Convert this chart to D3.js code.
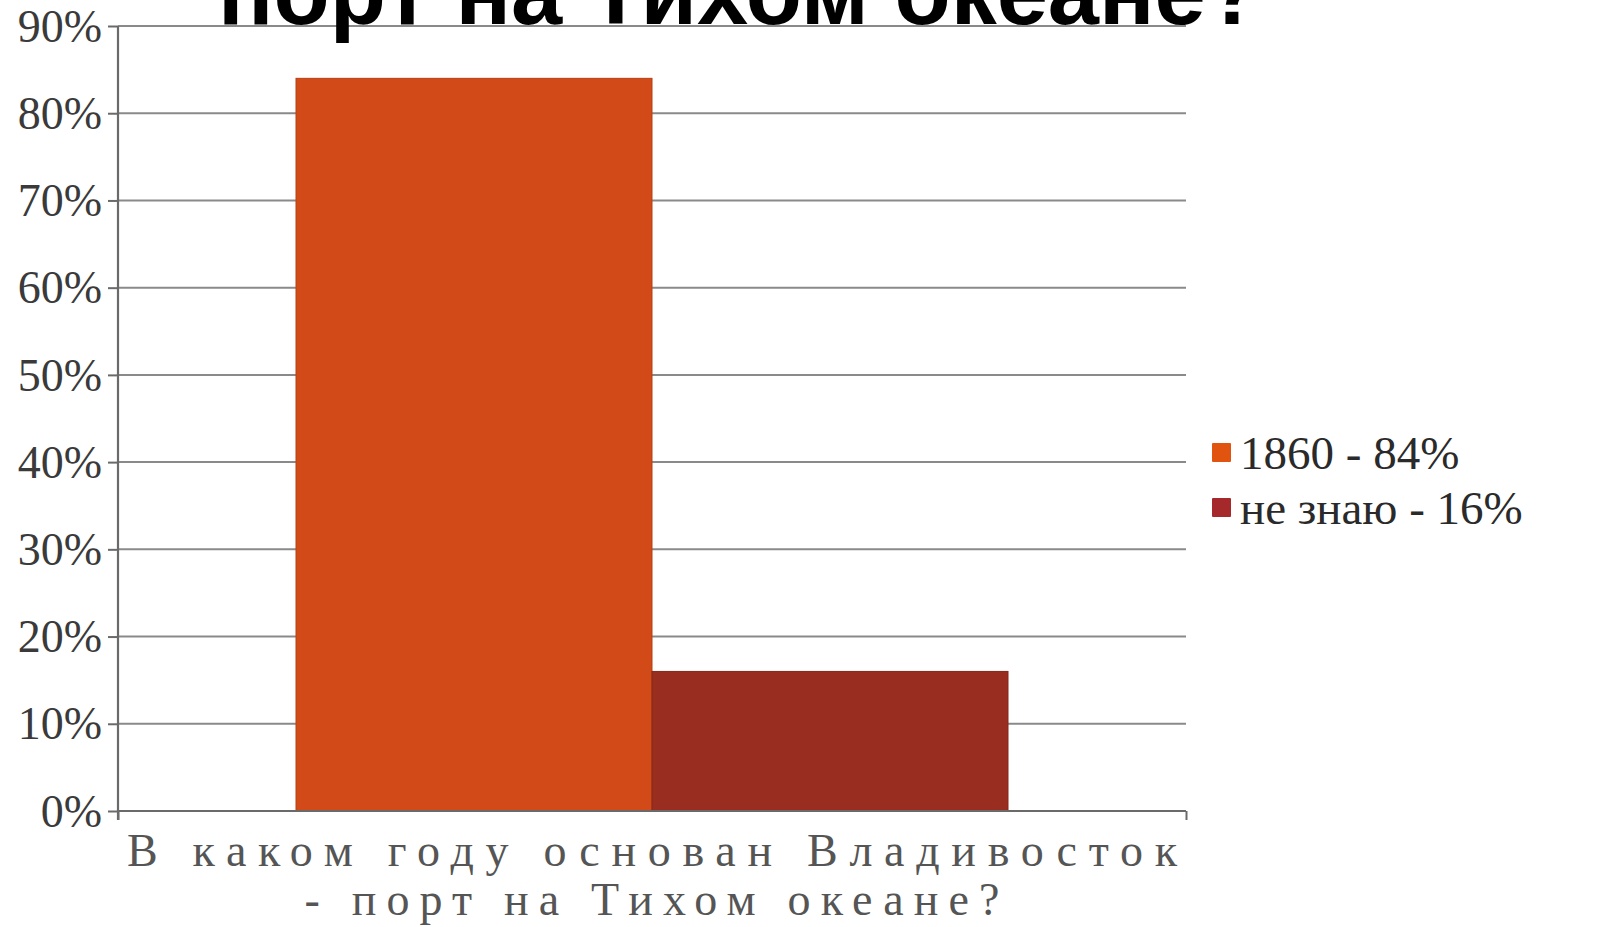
<!DOCTYPE html>
<html>
<head>
<meta charset="utf-8">
<script src="https://cdn.jsdelivr.net/npm/d3@7"></script>
<style>
  html, body { margin: 0; padding: 0; background: #fff; overflow: hidden; }
  svg { display: block; }
</style>
</head>
<body>
<svg id="chart" width="1608" height="927"></svg>
<script>
// ---- data ----
const titleLines = ["порт на Тихом океане?"];
const categories = ["В каком году основан Владивосток - порт на Тихом океане?"];
const categoryLabelLines = ["В каком году основан Владивосток", "- порт на Тихом океане?"];
const seriesNames = ["1860", "не знаю"];
const seriesValues = [0.84, 0.16];
const legendLabels = ["1860 - 84%", "не знаю - 16%"];
const yTickValues = [0, 0.1, 0.2, 0.3, 0.4, 0.5, 0.6, 0.7, 0.8, 0.9];
const seriesColors = ["#d14a17", "#992d1f"];
const legendColors = ["#e0540f", "#a5282a"];

(function () {
// ---- layout ----
const svg = d3.select("#chart");
const plotLeft = 118, plotRight = 1186, plotTop = 26, plotBottom = 811;

const y = d3.scaleLinear().domain([0, 0.9]).range([plotBottom, plotTop]);
const x0 = d3.scaleBand().domain(categories).range([plotLeft, plotRight]).padding(0);
const bw = x0.bandwidth();
const x1 = d3.scaleBand().domain(seriesNames)
  .range([bw / 6, bw * 5 / 6]).padding(0);

// gridlines
const grid = svg.append("g");
grid.selectAll("line").data(yTickValues.filter(d => d > 0)).join("line")
  .attr("x1", plotLeft).attr("x2", plotRight)
  .attr("y1", d => y(d)).attr("y2", d => y(d))
  .attr("stroke", "#8a8a8a").attr("stroke-width", 2);

// bars
const data = seriesNames.map((s, i) => ({ cat: categories[0], series: s, value: seriesValues[i], color: seriesColors[i] }));
svg.append("g").selectAll("rect").data(data).join("rect")
  .attr("x", d => x0(d.cat) + x1(d.series))
  .attr("width", x1.bandwidth())
  .attr("y", d => y(d.value))
  .attr("height", d => y(0) - y(d.value))
  .attr("fill", d => d.color)
  .attr("stroke", d => d3.color(d.color).darker(0.4))
  .attr("stroke-width", 1);

// y axis
const yAxis = d3.axisLeft(y).tickValues(yTickValues)
  .tickFormat(d3.format(".0%")).tickSize(10).tickPadding(6);
const gy = svg.append("g").attr("transform", `translate(${plotLeft},0)`).call(yAxis);
gy.select(".domain").attr("stroke", "#6a6a6a").attr("stroke-width", 2.2)
  .attr("d", `M0,${plotTop}V${plotBottom + 9}`);
gy.selectAll(".tick line").attr("stroke", "#6a6a6a").attr("stroke-width", 2);
gy.selectAll(".tick text")
  .attr("font-family", "'Liberation Serif', 'Times New Roman', serif")
  .attr("font-size", 46).attr("fill", "#3a3a3a").attr("dy", "0.33em");

// x axis
const xAxis = d3.axisBottom(d3.scaleLinear().domain([0, 1]).range([plotLeft, plotRight]))
  .tickValues([0, 1]).tickSize(9).tickFormat("");
const gx = svg.append("g").attr("transform", `translate(0,${plotBottom})`).call(xAxis);
gx.select(".domain").attr("stroke", "#6a6a6a").attr("stroke-width", 2.2)
  .attr("d", `M${plotLeft},0H${plotRight}`);
gx.selectAll(".tick line").attr("stroke", "#6a6a6a").attr("stroke-width", 2);

// category label (two lines)
const cx = x0(categories[0]) + bw / 2;
const labelWidths = [1050, 695];
const labelBaselines = [866, 915];
svg.append("g").selectAll("text").data(categoryLabelLines).join("text")
  .attr("x", cx).attr("y", (d, i) => labelBaselines[i])
  .attr("text-anchor", "middle")
  .attr("textLength", (d, i) => labelWidths[i])
  .attr("lengthAdjust", "spacing")
  .attr("font-family", "'Liberation Serif', 'Times New Roman', serif")
  .attr("font-size", 46).attr("fill", "#555")
  .text(d => d);

// legend
const lg = svg.append("g").attr("transform", "translate(1212,443)");
const items = lg.selectAll("g").data(legendLabels).join("g")
  .attr("transform", (d, i) => `translate(0,${i * 55})`);
items.append("rect").attr("width", 19).attr("height", 19).attr("rx", 1)
  .attr("fill", (d, i) => legendColors[i]);
items.append("text").attr("x", 28).attr("y", 26)
  .attr("font-family", "'Liberation Serif', 'Times New Roman', serif")
  .attr("font-size", 47).attr("fill", "#2a2a2a")
  .text(d => d);

// title (only its last line is visible in the frame, as in the reference)
svg.append("text").attr("x", 740).attr("y", 24)
  .attr("text-anchor", "middle")
  .attr("font-family", "'Liberation Sans', Arial, sans-serif")
  .attr("font-weight", "bold").attr("font-size", 92).attr("fill", "#000")
  .text(titleLines[0]);
})();
</script>
</body>
</html>
